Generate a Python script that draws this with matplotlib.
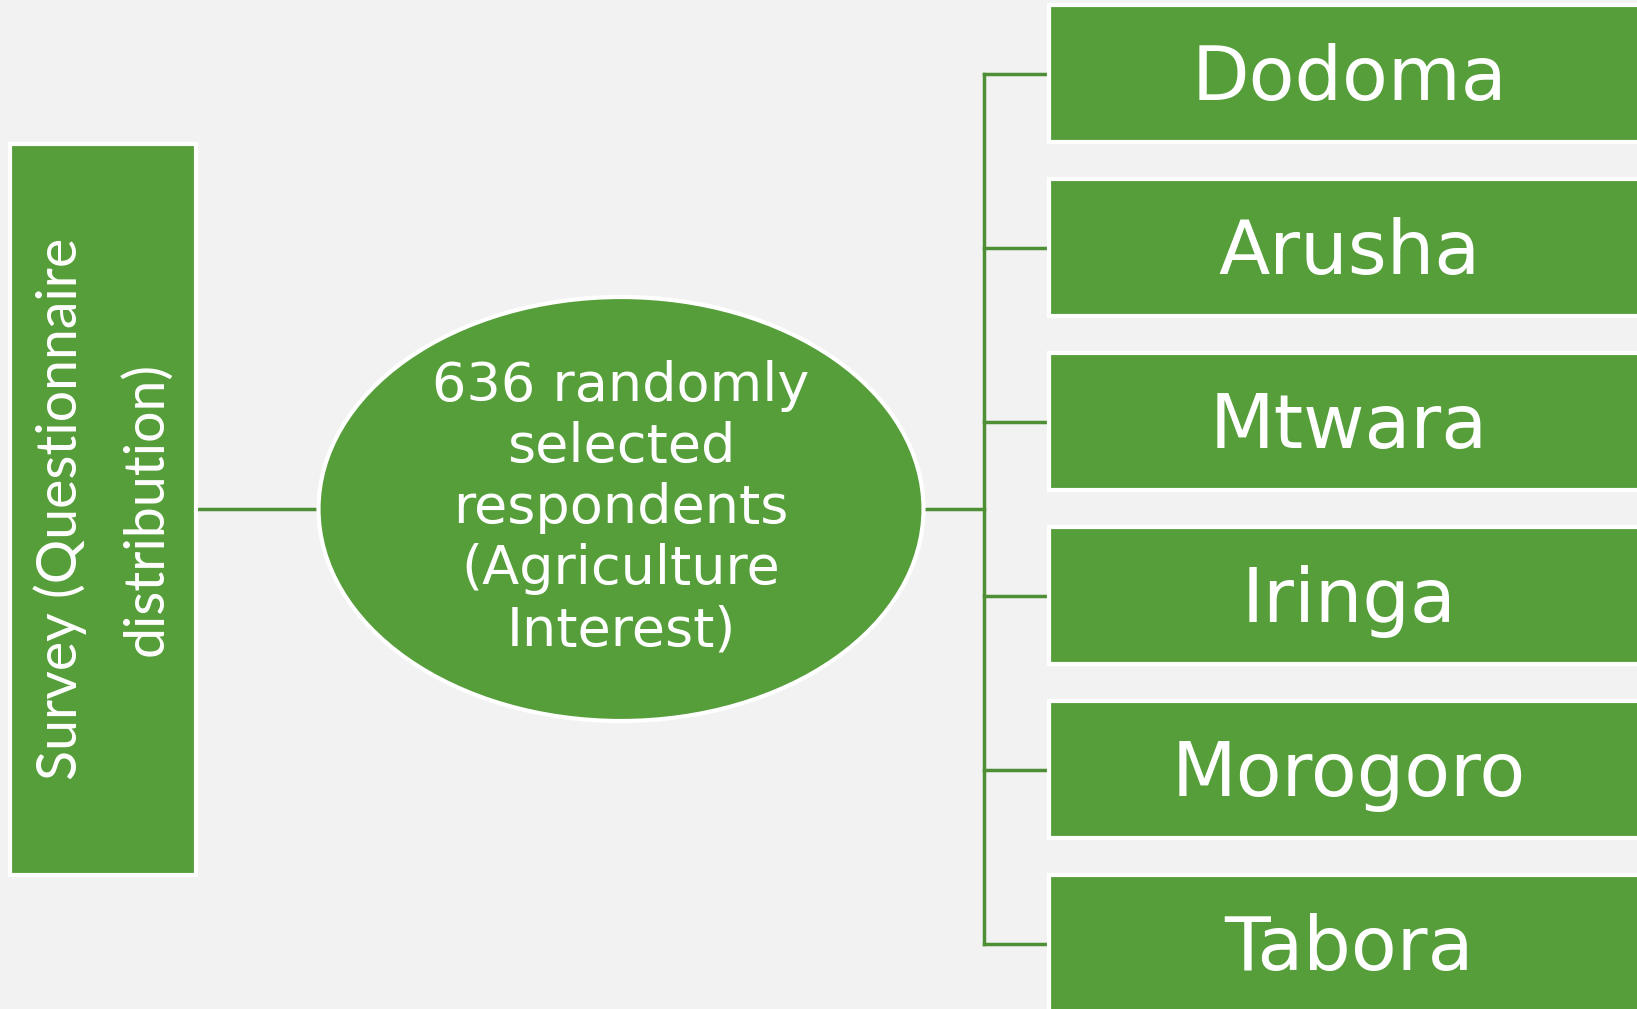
import matplotlib.pyplot as plt
import matplotlib.patches as mpatches

# texts of the diagram
LEFT_LABEL = "Survey (Questionnaire\ndistribution)"
CENTER_LABEL = "636 randomly\nselected\nrespondents\n(Agriculture\nInterest)"
REGIONS = ["Dodoma", "Arusha", "Mtwara", "Iringa", "Morogoro", "Tabora"]

# colours
BG = "#F2F2F2"
GREEN = "#559E3A"
LINE = "#4E8F36"

W, H = 1637, 1009

fig = plt.figure(figsize=(W / 100, H / 100), dpi=100)
fig.patch.set_facecolor(BG)
ax = fig.add_axes([0, 0, 1, 1])
ax.set_xlim(0, W)
ax.set_ylim(H, 0)
ax.axis("off")

# left box (survey)
ax.add_patch(mpatches.Rectangle((10, 144), 186, 731, facecolor=GREEN,
                                edgecolor="white", linewidth=3, zorder=2))
ax.text(103, 509, LEFT_LABEL, rotation=90, ha="center", va="center",
        color="white", fontsize=40, family="Lato", linespacing=1.8, zorder=3)

# ellipse in the middle
cx, cy = 621, 509
ax.add_patch(mpatches.Ellipse((cx, cy), 605, 424, facecolor=GREEN,
                              edgecolor="white", linewidth=3, zorder=2))
ax.text(cx, cy - 1, CENTER_LABEL, ha="center", va="center", color="white",
        fontsize=39, family="DejaVu Sans", linespacing=1.22, zorder=3)

# connectors
ax.plot([198, 316], [cy, cy], color=LINE, lw=2.5, zorder=1)
ax.plot([925, 984], [cy, cy], color=LINE, lw=2.5, zorder=1)

# region boxes on the right
pitch = 174
top0 = 5
box_h = 137
centers = []
for i, name in enumerate(REGIONS):
    y0 = top0 + i * pitch
    yc = y0 + box_h / 2
    centers.append(yc)
    ax.add_patch(mpatches.Rectangle((1049, y0), 640, box_h, facecolor=GREEN,
                                    edgecolor="white", linewidth=3, zorder=2))
    ax.text(1349, yc + 6, name, ha="center", va="center",
            color="white", fontsize=54, family="DejaVu Sans", zorder=3)
    ax.plot([984, 1046], [yc, yc], color=LINE, lw=2.5, zorder=1)

ax.plot([984, 984], [centers[0], centers[-1]], color=LINE, lw=2.5, zorder=1)

fig.savefig("out.png", dpi=100, facecolor=BG)
